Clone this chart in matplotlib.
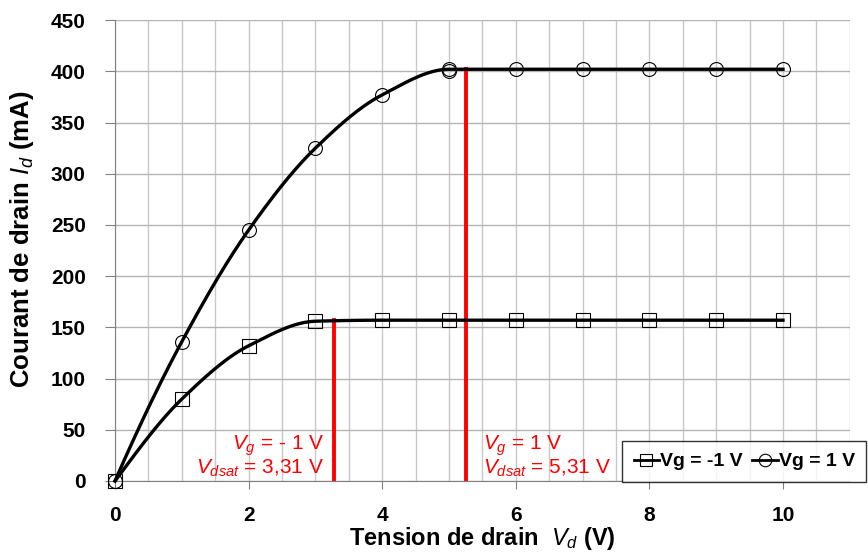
import numpy as np
import matplotlib.pyplot as plt
from matplotlib.ticker import MultipleLocator

plt.rcParams['font.family'] = ['Liberation Sans', 'DejaVu Sans']
plt.rcParams['mathtext.fontset'] = 'custom'
plt.rcParams['mathtext.it'] = 'Liberation Sans:italic'
plt.rcParams['mathtext.rm'] = 'Liberation Sans'
plt.rcParams['mathtext.bf'] = 'Liberation Sans:bold'

# Données
vd_m1 = [0, 1, 2, 3, 4, 5, 6, 7, 8, 9, 10]
id_m1 = [0, 80, 132, 156, 157, 157, 157, 157, 157, 157, 157]
vd_p1 = [0, 1, 2, 3, 4, 5, 5, 6, 7, 8, 9, 10]
id_p1 = [0, 136, 245, 325, 377, 400, 402, 402, 402, 402, 402, 402]
x_traits = [3.28, 5.26]          # position des traits rouges
y_traits = [157, 402]
labels_sat = ["$V_g$ = - 1 V\n$V_{dsat}$ = 3,31 V", "$V_g$ = 1 V\n$V_{dsat}$ = 5,31 V"]


def pchip(x, y, n=30):
    # interpolation monotone (Fritsch-Carlson) pour lisser la courbe
    x = np.asarray(x, float)
    y = np.asarray(y, float)
    ux = np.unique(x)
    uy = np.array([y[x == v].max() for v in ux])
    h = np.diff(ux)
    d = np.diff(uy) / h
    m = np.zeros_like(uy)
    for i in range(1, len(ux) - 1):
        if d[i - 1] * d[i] > 0:
            w1 = 2 * h[i] + h[i - 1]
            w2 = h[i] + 2 * h[i - 1]
            m[i] = (w1 + w2) / (w1 / d[i - 1] + w2 / d[i])
    m[0] = d[0] * 1.1
    m[-1] = d[-1]
    xs, ys = [], []
    for i in range(len(ux) - 1):
        t = np.linspace(0, 1, n)
        h00 = 2 * t**3 - 3 * t**2 + 1
        h10 = t**3 - 2 * t**2 + t
        h01 = -2 * t**3 + 3 * t**2
        h11 = t**3 - t**2
        xs.extend(ux[i] + t * h[i])
        ys.extend(h00 * uy[i] + h10 * h[i] * m[i] + h01 * uy[i + 1] + h11 * h[i] * m[i + 1])
    return np.array(xs), np.array(ys)


fig = plt.figure(figsize=(8.68, 5.58), dpi=100)
ax = fig.add_axes([0.1325, 0.138, 0.8465, 0.826])

for xv, yv, m in ((vd_m1, id_m1, 's'), (vd_p1, id_p1, 'o')):
    xs, ys = pchip(xv, yv)
    ax.plot(xs, ys, color='black', lw=2.4, zorder=3, clip_on=False)
    ax.plot(xv, yv, ls='none', marker=m, ms=10, mfc='none', mec='black', mew=0.8,
            zorder=4, clip_on=False)

for xv, yv in zip(x_traits, y_traits):
    ax.plot([xv, xv], [0, yv], color='red', lw=2.8, zorder=2)

ax.text(x_traits[0] - 0.15, 2, labels_sat[0], color='red', fontsize=15, ha='right', va='bottom',
        linespacing=0.95)
ax.text(x_traits[1] + 0.25, 2, labels_sat[1], color='red', fontsize=15, ha='left', va='bottom',
        linespacing=0.95)

ax.set_xlim(0, 11)
ax.set_ylim(0, 450)
ax.xaxis.set_major_locator(MultipleLocator(2))
ax.xaxis.set_minor_locator(MultipleLocator(0.5))
ax.yaxis.set_major_locator(MultipleLocator(50))
ax.grid(True, which='both', axis='x', color='#c8c8c8', lw=1)
ax.grid(True, which='major', axis='y', color='#b4b4b4', lw=1)
ax.set_axisbelow(True)
for s in ['top', 'right']:
    ax.spines[s].set_visible(False)
for s in ['left', 'bottom']:
    ax.spines[s].set_color('#808080')
ax.tick_params(which='both', length=0)
ax.tick_params(axis='x', which='major', length=6, direction='out', color='#808080', pad=12)
ax.tick_params(axis='y', length=7, direction='out', color='#808080', pad=14)
for lab in ax.get_xticklabels() + ax.get_yticklabels():
    lab.set_fontweight('bold')
    lab.set_fontsize(15)

ax.set_xlabel("Tension de drain  $\\mathbf{\\mathit{V_d}}$ (V)", fontsize=17, fontweight='bold', labelpad=0)
ax.set_ylabel("Courant de drain $\\mathbf{\\mathit{I_d}}$ (mA)", fontsize=18.5, fontweight='bold')
ax.yaxis.set_label_coords(-0.108, 0.525)

h1, = ax.plot([], [], color='black', lw=2, marker='s', ms=9, mfc='none', mec='black', mew=0.8)
h2, = ax.plot([], [], color='black', lw=2, marker='o', ms=9, mfc='none', mec='black', mew=0.8)
leg = fig.legend([h1, h2], ['Vg = -1 V', 'Vg = 1 V'], loc='lower left',
                 bbox_to_anchor=(622 / 868, 0.136), ncol=2, frameon=True, fancybox=False,
                 edgecolor='black', prop={'weight': 'bold', 'size': 14}, handlelength=1.3,
                 handletextpad=0.05, columnspacing=0.5, borderpad=0.6, borderaxespad=0)
leg.get_frame().set_linewidth(1)

plt.savefig("out.png", dpi=100)
